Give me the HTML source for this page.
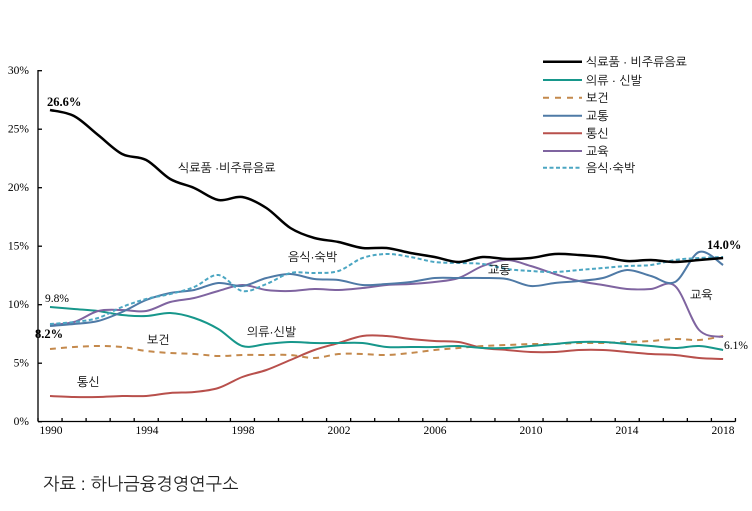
<!DOCTYPE html>
<html><head><meta charset="utf-8">
<style>
html,body{margin:0;padding:0;background:#fff;}
svg{display:block;}
.kr{font-family:"Liberation Sans","NanumGothic","Noto Sans CJK KR",sans-serif;font-size:12px;fill:#000;}
.num{font-family:"Liberation Serif",serif;font-size:11.5px;fill:#000;}
.b{font-family:"Liberation Serif",serif;font-size:12.5px;font-weight:bold;fill:#000;}
</style></head>
<body>
<svg id="c" width="752" height="511" viewBox="0 0 752 511" xmlns="http://www.w3.org/2000/svg">
<rect width="752" height="511" fill="#fff"/>
<g id="axes" stroke="#000" stroke-width="1.3" fill="none">
<line x1="38" y1="70" x2="38" y2="421.5"/>
<line x1="38" y1="421.5" x2="735.5" y2="421.5"/>
</g>
<g class="num" text-anchor="end">
<text x="29" y="74">30%</text>
<text x="29" y="132.5">25%</text>
<text x="29" y="191">20%</text>
<text x="29" y="249.5">15%</text>
<text x="29" y="308">10%</text>
<text x="29" y="366.5">5%</text>
<text x="29" y="425">0%</text>
</g>
<g class="num" text-anchor="middle">
<text x="51" y="434">1990</text>
<text x="147" y="434">1994</text>
<text x="243" y="434">1998</text>
<text x="339" y="434">2002</text>
<text x="435" y="434">2006</text>
<text x="531" y="434">2010</text>
<text x="627" y="434">2014</text>
<text x="723" y="434">2018</text>
</g>
<g id="lines"></g>
<g class="kr">
<text x="178" y="172">식료품 ·비주류음료</text>
<text x="288" y="261">음식·숙박</text>
<text x="247" y="336">의류·신발</text>
<text x="147" y="344">보건</text>
<text x="77" y="386">통신</text>
<text x="488" y="274">교통</text>
<text x="690" y="299">교육</text>
</g>
<text class="b" x="47" y="106">26.6%</text>
<text class="num" x="45" y="302">9.8%</text>
<text class="b" x="35" y="338">8.2%</text>
<text class="b" x="707" y="249">14.0%</text>
<text class="num" x="724" y="349">6.1%</text>
<g id="legend">
<line x1="543" y1="61.7" x2="582" y2="61.7" stroke="#000" stroke-width="2.5"/>
<line x1="543" y1="80" x2="582" y2="80" stroke="#17978b" stroke-width="2"/>
<line x1="543" y1="97.7" x2="582" y2="97.7" stroke="#c4894c" stroke-width="2" stroke-dasharray="6,6"/>
<line x1="543" y1="115.7" x2="582" y2="115.7" stroke="#4f7aa6" stroke-width="2"/>
<line x1="543" y1="133.3" x2="582" y2="133.3" stroke="#b8504c" stroke-width="2"/>
<line x1="543" y1="151" x2="582" y2="151" stroke="#7f64a0" stroke-width="2"/>
<line x1="543" y1="167.7" x2="582" y2="167.7" stroke="#4ba6c2" stroke-width="2" stroke-dasharray="4,2.5"/>
<g class="kr">
<text x="586" y="66">식료품 · 비주류음료</text>
<text x="586" y="84.3">의류 · 신발</text>
<text x="586" y="102">보건</text>
<text x="586" y="120">교통</text>
<text x="586" y="137.6">통신</text>
<text x="586" y="155.3">교육</text>
<text x="586" y="172">음식·숙박</text>
</g>
</g>
<text x="43" y="490" style="font-family:'Liberation Sans','NanumGothic','Noto Sans CJK KR',sans-serif;font-size:17.5px;fill:#222;">자료 : 하나금융경영연구소</text>
</svg>
<script>
(function(){
var NS="http://www.w3.org/2000/svg";
var ax=document.getElementById('axes');
for(var k=0;k<=29;k++){
  var x=38+k*24.05;
  var l=document.createElementNS(NS,'line');
  l.setAttribute('x1',x);l.setAttribute('x2',x);
  l.setAttribute('y1',418);l.setAttribute('y2',421.5);
  ax.appendChild(l);
}
for(var j=0;j<7;j++){
  var y=70.7+j*58.5;
  var l2=document.createElementNS(NS,'line');
  l2.setAttribute('x1',38);l2.setAttribute('x2',42);
  l2.setAttribute('y1',y);l2.setAttribute('y2',y);
  ax.appendChild(l2);
}
function X(i){return 50+i*24.04;}
function path(ys){
  var p=[];for(var i=0;i<ys.length;i++)p.push([X(i),ys[i]]);
  var d='M'+p[0][0].toFixed(1)+','+p[0][1].toFixed(1);
  for(var i=0;i<p.length-1;i++){
    var p0=p[i>0?i-1:i],p1=p[i],p2=p[i+1],p3=p[i+2<p.length?i+2:i+1];
    var t=6;
    var c1x=p1[0]+(p2[0]-p0[0])/t,c1y=p1[1]+(p2[1]-p0[1])/t;
    var c2x=p2[0]-(p3[0]-p1[0])/t,c2y=p2[1]-(p3[1]-p1[1])/t;
    d+=' C'+c1x.toFixed(1)+','+c1y.toFixed(1)+' '+c2x.toFixed(1)+','+c2y.toFixed(1)+' '+p2[0].toFixed(1)+','+p2[1].toFixed(1);
  }
  return d;
}
var series=[
 {c:'#b8504c',w:2,y:[396,397,397,396,396,393,392,388,377,370,360,350,343,336,336,339,341,342,348,350,352,352,350,350,352,354,355,358,359]},
 {c:'#c4894c',w:2,dash:'6,5',y:[349,347,346,347,351,353,354,356,355,355,355,358,354,354,355,353,350,348,346,345,344,344,343,343,342,341,339,340,336]},
 {c:'#17978b',w:2,y:[307,309,311,315,316,313,318,329,346,344,342,343,343,343,347,347,347,346,348,348,346,344,342,342,344,346,348,346,350]},
 {c:'#7f64a0',w:2,y:[325,322,311,310,311,302,298,291,285,290,291,289,290,288,285,284,282,278,266,260,266,274,281,285,289,289,286,330,337]},
 {c:'#4f7aa6',w:2,y:[326,324,321,312,300,293,290,283,286,278,274,279,280,285,284,282,278,278,278,279,286,283,281,278,270,276,282,252,265]},
 {c:'#4ba6c2',w:2,dash:'4,2.5',y:[324,322,318,307,299,294,287,275,291,284,273,273,271,258,254,257,262,263,264,269,271,272,270,268,266,265,260,258,257]},
 {c:'#000',w:2.5,y:[110,116,135,154,160,179,188,200,197,208,228,238,242,248,248,253,257,262,257,259,258,254,255,257,261,260,262,260,258]}
];
var g=document.getElementById('lines');
series.forEach(function(s){
  var e=document.createElementNS(NS,'path');
  e.setAttribute('d',path(s.y));
  e.setAttribute('fill','none');
  e.setAttribute('stroke',s.c);
  e.setAttribute('stroke-width',s.w);
  e.setAttribute('stroke-linejoin','round');
  if(s.dash)e.setAttribute('stroke-dasharray',s.dash);
  g.appendChild(e);
});
})();
</script>
</body></html>
